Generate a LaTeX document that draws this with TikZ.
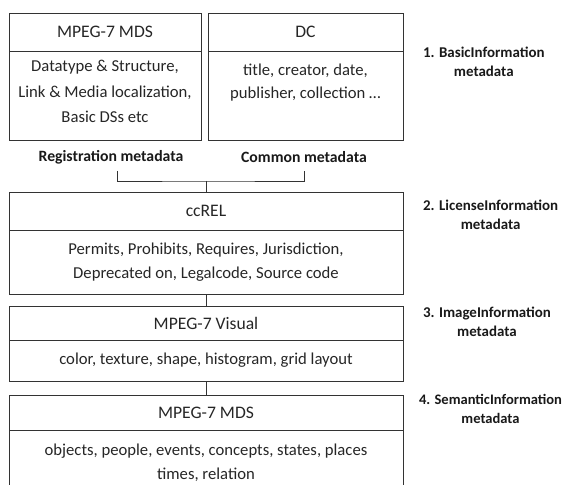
\documentclass[tikz,border=0pt]{standalone}
\usepackage{fontspec}
\setmainfont{Carlito}
\usetikzlibrary{positioning}
\begin{document}
\begin{tikzpicture}
  [x=0.75pt,y=-0.75pt,line width=0.7pt,
   every node/.style={inner sep=0pt,outer sep=0pt},
   box/.style={draw=black!80,rectangle,align=center,text=black!85,font=\fontsize{12.5}{19}\selectfont},
   headbox/.style={box,font=\fontsize{13.2}{16}\selectfont},
   tag/.style={text=black!90,font=\bfseries\fontsize{11.8}{14}\selectfont},
   level/.style={anchor=west,align=center,text=black!90,font=\bfseries\fontsize{11.2}{14.5}\selectfont}]

  \useasboundingbox (0,0) rectangle (565,485);

  % basic information
  \node[headbox,minimum width=144pt,minimum height=28.5pt] (mdsHead) at (105,32) {MPEG-7 MDS};
  \node[box,minimum width=144pt,minimum height=66.75pt,below=0pt of mdsHead] (mdsBody)
    {Datatype \& Structure,\\Link \& Media localization,\\Basic DSs etc\\[-13pt]\mbox{}};
  \node[headbox,minimum width=146.25pt,minimum height=28.5pt] (dcHead) at (305.5,32) {DC};
  \node[box,minimum width=146.25pt,minimum height=66.75pt,below=0pt of dcHead,
        font=\fontsize{12.5}{17}\selectfont] (dcBody)
    {title, creator, date,\\publisher, collection \dots\\[4pt]\mbox{}};

  \node[tag] (regLbl) at (111,157) {Registration metadata};
  \node[tag] (comLbl) at (304,157) {Common metadata};

  % license information
  \node[headbox,minimum width=295.5pt,minimum height=28.5pt] (ccHead) at (206,211) {ccREL};
  \node[box,minimum width=295.5pt,minimum height=48pt,below=0pt of ccHead,
        font=\fontsize{12.5}{18}\selectfont] (ccBody)
    {Permits, Prohibits, Requires, Jurisdiction,\\Deprecated on, Legalcode, Source code};

  % image information
  \node[headbox,minimum width=295.5pt,minimum height=25.5pt] (visHead) at (206,323) {MPEG-7 Visual};
  \node[box,minimum width=295.5pt,minimum height=30.75pt,below=0pt of visHead] (visBody)
    {color, texture, shape, histogram, grid layout};

  % semantic information
  \node[headbox,minimum width=295.5pt,minimum height=26.25pt] (semHead) at (206,412.5) {MPEG-7 MDS};
  \node[box,minimum width=295.5pt,minimum height=48.75pt,below=0pt of semHead,
        font=\fontsize{12.5}{18}\selectfont] (semBody)
    {objects, people, events, concepts, states, places\\times, relation};

  % levels
  \node[level] (lv1) at (423,62) {1. BasicInformation\\metadata};
  \node[level] (lv2) at (423,215) {2. LicenseInformation\\metadata};
  \node[level] (lv3) at (423,322) {3. ImageInformation\\metadata};
  \node[level,font=\bfseries\fontsize{10.9}{14.5}\selectfont] (lv4) at (419,409) {4. SemanticInformation\\metadata};

  % connectors
  \coordinate (bl) at (117,171);
  \coordinate (br) at (304,171);
  \coordinate (bm) at (206,181);
  \draw[black!80] (bl) |- (bm) -| (br);
  \draw[black!80] (bm) -- (ccHead.north);
  \draw[black!80] (ccBody.south) -- (visHead.north);
  \draw[black!80] (visBody.south) -- (semHead.north);

\end{tikzpicture}
\end{document}
